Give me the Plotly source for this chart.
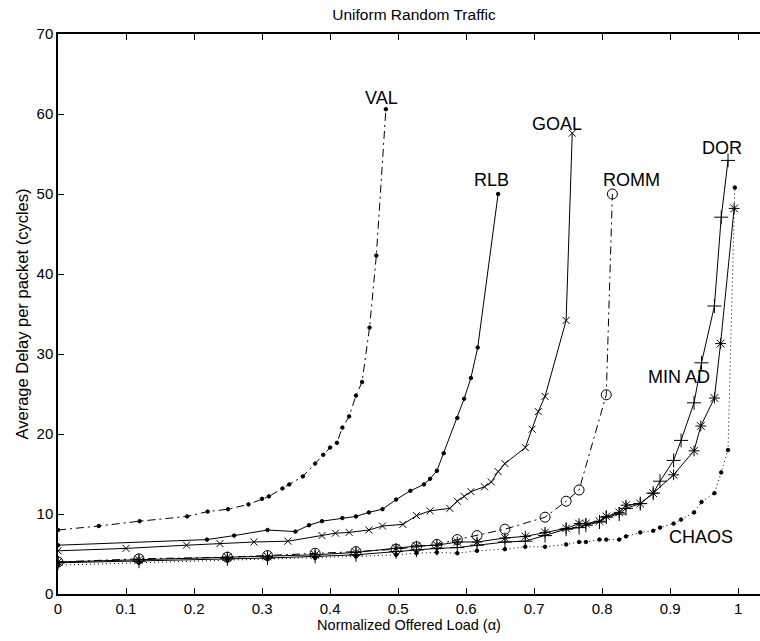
import plotly.graph_objects as go

# ---- data ----
val_x = [0, 0.06, 0.12, 0.19, 0.22, 0.25, 0.28, 0.30, 0.31, 0.33, 0.34, 0.36, 0.378, 0.39, 0.40, 0.41, 0.418, 0.428, 0.438, 0.447, 0.458, 0.468, 0.482]
val_y = [8.0, 8.5, 9.1, 9.7, 10.3, 10.6, 11.2, 11.9, 12.2, 13.2, 13.7, 14.7, 16.3, 17.4, 18.3, 18.9, 20.8, 22.2, 24.8, 26.5, 33.3, 42.3, 60.6]

rlb_x = [0, 0.219, 0.259, 0.308, 0.349, 0.369, 0.388, 0.418, 0.438, 0.457, 0.477, 0.497, 0.518, 0.538, 0.547, 0.557, 0.567, 0.587, 0.597, 0.607, 0.617, 0.647]
rlb_y = [6.1, 6.8, 7.3, 8.0, 7.8, 8.6, 9.1, 9.5, 9.7, 10.2, 10.6, 11.8, 12.9, 13.7, 14.4, 15.4, 17.6, 22.0, 24.4, 27.0, 30.8, 50.0]

goal_x = [0, 0.1, 0.189, 0.238, 0.288, 0.338, 0.388, 0.408, 0.428, 0.457, 0.477, 0.507, 0.527, 0.547, 0.576, 0.587, 0.597, 0.607, 0.627, 0.637, 0.647, 0.657, 0.687, 0.697, 0.706, 0.716, 0.747, 0.756]
goal_y = [5.4, 5.7, 6.1, 6.3, 6.5, 6.6, 7.3, 7.6, 7.7, 8.0, 8.5, 8.7, 9.8, 10.4, 10.7, 11.6, 12.2, 12.8, 13.4, 14.0, 15.3, 16.3, 18.3, 20.6, 22.8, 24.7, 34.2, 57.6]

romm_x = [0, 0.119, 0.249, 0.308, 0.378, 0.438, 0.497, 0.527, 0.557, 0.587, 0.616, 0.657, 0.716, 0.747, 0.766, 0.806, 0.815]
romm_y = [4.0, 4.4, 4.6, 4.8, 5.1, 5.3, 5.6, 5.9, 6.2, 6.8, 7.3, 8.1, 9.6, 11.6, 13.0, 24.9, 50.0]

dor_x = [0, 0.119, 0.249, 0.308, 0.378, 0.438, 0.497, 0.527, 0.557, 0.587, 0.616, 0.657, 0.687, 0.716, 0.747, 0.766, 0.776, 0.796, 0.806, 0.825, 0.835, 0.856, 0.875, 0.885, 0.905, 0.916, 0.935, 0.946, 0.965, 0.975, 0.985]
dor_y = [3.9, 4.1, 4.4, 4.5, 4.7, 4.9, 5.3, 5.5, 5.7, 5.8, 6.1, 6.5, 6.6, 7.3, 8.1, 8.3, 8.6, 9.0, 9.6, 10.0, 10.7, 11.3, 12.6, 14.1, 16.7, 19.2, 23.9, 28.9, 36.0, 47.1, 54.2]

minad_x = [0, 0.119, 0.249, 0.308, 0.378, 0.438, 0.497, 0.527, 0.557, 0.587, 0.616, 0.657, 0.687, 0.716, 0.747, 0.766, 0.776, 0.796, 0.806, 0.825, 0.835, 0.856, 0.875, 0.905, 0.935, 0.945, 0.965, 0.974, 0.994]
minad_y = [4.0, 4.3, 4.6, 4.7, 4.9, 5.2, 5.7, 6.0, 6.1, 6.5, 6.5, 7.0, 7.2, 7.7, 8.2, 8.8, 8.8, 9.1, 9.7, 10.2, 11.1, 11.3, 12.6, 14.9, 17.9, 21.0, 24.5, 31.3, 48.2]

chaos_x = [0, 0.119, 0.249, 0.308, 0.378, 0.438, 0.497, 0.527, 0.557, 0.587, 0.616, 0.657, 0.687, 0.716, 0.747, 0.766, 0.776, 0.796, 0.806, 0.825, 0.835, 0.856, 0.875, 0.885, 0.905, 0.916, 0.935, 0.946, 0.965, 0.975, 0.985, 0.995]
chaos_y = [3.6, 3.9, 4.2, 4.4, 4.5, 4.7, 4.9, 5.1, 5.2, 5.1, 5.4, 5.6, 5.9, 5.9, 6.2, 6.5, 6.5, 6.8, 6.8, 6.8, 7.2, 7.7, 7.9, 8.3, 8.8, 9.3, 10.2, 11.5, 12.6, 15.2, 18.0, 50.8]

labels = ["VAL", "RLB", "GOAL", "ROMM", "DOR", "MIN AD", "CHAOS"]
label_x = [0.475, 0.637, 0.734, 0.843, 0.976, 0.913, 0.945]
label_y = [62.0, 51.7, 58.8, 51.7, 55.7, 27.1, 7.1]

x_ticks = [0, 0.1, 0.2, 0.3, 0.4, 0.5, 0.6, 0.7, 0.8, 0.9, 1]
x_tick_text = ["0", "0.1", "0.2", "0.3", "0.4", "0.5", "0.6", "0.7", "0.8", "0.9", "1"]
y_ticks = [0, 10, 20, 30, 40, 50, 60, 70]

FONT = "Liberation Sans, Arial, sans-serif"
DASHDOT = "8px,4px,2px,4px"
DOTTED = "1px,3px"
fig = go.Figure()

def add(x, y, dash, symbol, msize, mwidth=1.0):
    fig.add_trace(go.Scatter(
        x=x, y=y, mode="lines+markers",
        line=dict(color="black", width=1, dash=dash),
        marker=dict(symbol=symbol, size=msize, color="black",
                    line=dict(color="black", width=mwidth)),
        showlegend=False, hoverinfo="skip"))

add(val_x, val_y, DASHDOT, "circle", 3.5)
add(rlb_x, rlb_y, "solid", "circle", 3.5)
add(goal_x, goal_y, "solid", "x-thin-open", 7)
add(romm_x, romm_y, DASHDOT, "circle-open", 10)
add(dor_x, dor_y, "solid", "cross-thin-open", 10)
add(minad_x, minad_y, "solid", "asterisk-open", 9)
add(chaos_x, chaos_y, DOTTED, "circle", 3.5)

for t, lx, ly in zip(labels, label_x, label_y):
    fig.add_annotation(x=lx, y=ly, text=t, showarrow=False,
                       font=dict(family=FONT, size=18, color="black"),
                       xanchor="center", yanchor="middle")

fig.update_layout(
    width=760, height=641,
    margin=dict(l=58, r=0, t=34, b=47),
    paper_bgcolor="white", plot_bgcolor="white",
    font=dict(family=FONT, size=15, color="black"),
    title=dict(text="Uniform Random Traffic", x=(414 - 58) / 702, xref="paper",
               xanchor="center", y=1 - 15 / 641, yanchor="middle",
               font=dict(family=FONT, size=15.5, color="black")),
)
fig.update_xaxes(
    range=[0, 1.032], tickvals=x_ticks, ticktext=x_tick_text,
    ticks="inside", ticklen=6, tickcolor="black", tickwidth=1,
    showline=True, linecolor="black", linewidth=1.5, mirror="ticks",
    showgrid=False, zeroline=False,
    title=dict(text="Normalized Offered Load (α)", standoff=3,
               font=dict(family=FONT, size=14.5)),
    tickfont=dict(family=FONT, size=15),
)
fig.update_yaxes(
    range=[0, 70], tickvals=y_ticks,
    ticks="inside", ticklen=6, tickcolor="black", tickwidth=1,
    showline=True, linecolor="black", linewidth=1.5, mirror=False,
    showgrid=False, zeroline=False,
    title=dict(text="Average Delay per packet (cycles)", standoff=4,
               font=dict(family=FONT, size=16.5)),
    tickfont=dict(family=FONT, size=15),
)

fig.write_html("out.html")
